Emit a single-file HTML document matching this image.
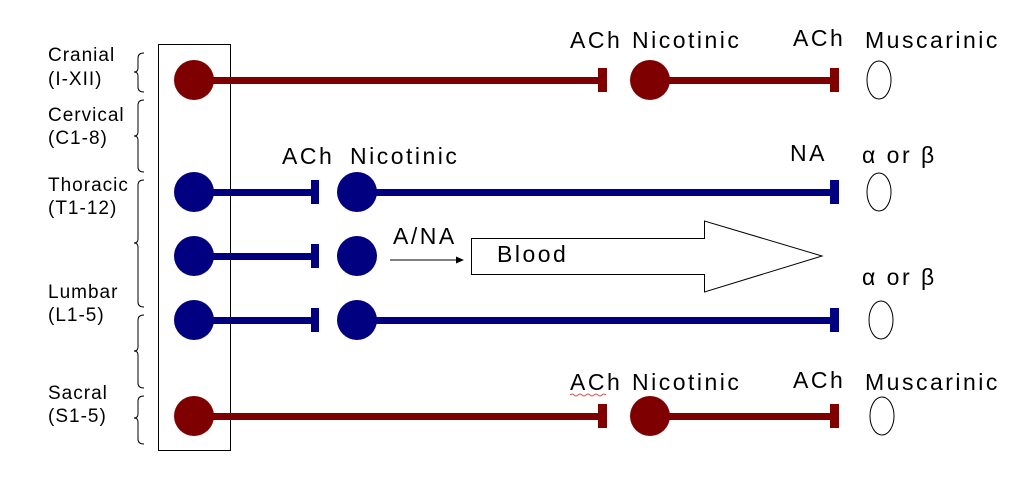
<!DOCTYPE html>
<html><head><meta charset="utf-8"><style>
html,body{margin:0;padding:0;background:#fff;}
svg{display:block;}
text{font-family:"Liberation Sans",sans-serif;fill:#000;}
</style></head><body>
<svg width="1030" height="497" viewBox="0 0 1030 497" xmlns="http://www.w3.org/2000/svg">
<g font-size="19" letter-spacing="1">
<text x="48" y="61">Cranial</text><text x="48" y="85">(I-XII)</text>
<text x="48" y="121">Cervical</text><text x="48" y="144">(C1-8)</text>
<text x="48" y="191">Thoracic</text><text x="48" y="214">(T1-12)</text>
<text x="48" y="298">Lumbar</text><text x="48" y="321">(L1-5)</text>
<text x="48" y="399">Sacral</text><text x="48" y="422">(S1-5)</text>
</g>
<g fill="none" stroke="#000" stroke-width="1">
<path d="M144,53 Q138,53 138,58 L138,68 Q138,72 134,72 Q138,72 138,76 L138,87 Q138,92 144,92"/>
<path d="M144,100 Q138,100 138,105 L138,132 Q138,136 134,136 Q138,136 138,140 L138,167 Q138,172 144,172"/>
<path d="M144,180 Q138,180 138,185 L138,239 Q138,243 134,243 Q138,243 138,247 L138,302 Q138,307 144,307"/>
<path d="M144,315 Q138,315 138,320 L138,347 Q138,351 134,351 Q138,351 138,355 L138,383 Q138,388 144,388"/>
<path d="M144,396 Q138,396 138,401 L138,414 Q138,418 134,418 Q138,418 138,422 L138,439 Q138,444 144,444"/>
<rect x="158.5" y="44.5" width="72" height="406"/>
</g>
<g fill="#7f0000">
<rect x="194" y="77" width="408" height="7"/><rect x="598" y="68" width="9" height="24"/>
<circle cx="194" cy="80" r="20"/><circle cx="650" cy="80" r="20"/>
<rect x="650" y="77" width="184" height="7"/><rect x="830" y="68" width="9" height="24"/>
<rect x="194" y="413" width="408" height="7"/><rect x="598" y="404" width="9" height="24"/>
<circle cx="194" cy="416" r="20"/><circle cx="650" cy="416" r="20"/>
<rect x="650" y="413" width="184" height="7"/><rect x="830" y="404" width="9" height="24"/>
</g>
<g fill="#000080">
<circle cx="194" cy="192" r="20"/><rect x="194" y="189" width="120" height="7"/><rect x="311" y="180" width="8" height="24"/>
<circle cx="357" cy="192" r="20"/><rect x="357" y="189" width="477" height="7"/><rect x="830" y="180" width="9" height="24"/>
<circle cx="194" cy="256" r="20"/><rect x="194" y="253" width="120" height="7"/><rect x="311" y="244" width="8" height="24"/>
<circle cx="357" cy="256" r="20"/>
<circle cx="194" cy="320" r="20"/><rect x="194" y="317" width="120" height="7"/><rect x="311" y="308" width="8" height="24"/>
<circle cx="357" cy="320" r="20"/><rect x="357" y="317" width="477" height="7"/><rect x="830" y="308" width="9" height="24"/>
</g>
<g fill="none" stroke="#000" stroke-width="1">
<ellipse cx="879" cy="80" rx="12" ry="19"/>
<ellipse cx="879" cy="192" rx="12" ry="19"/>
<ellipse cx="881" cy="320" rx="12" ry="19"/>
<ellipse cx="882" cy="416" rx="12" ry="19"/>
<path d="M458,260 L390,260"/>
<path d="M471.5,238.5 L704.5,238.5 L704.5,221 L822,256 L704.5,292 L704.5,274.5 L471.5,274.5 Z"/>
</g>
<path d="M464,260 L456,256.5 L456,263.5 Z" fill="#000"/>
<g font-size="23" letter-spacing="2.5">
<text x="570" y="48">ACh</text><text x="632" y="48">Nicotinic</text>
<text x="793" y="46">ACh</text><text x="865" y="48">Muscarinic</text>
<text x="282" y="164">ACh</text><text x="350" y="164">Nicotinic</text>
<text x="790" y="161">NA</text><text x="862" y="163">α or β</text>
<text x="393" y="244">A/NA</text><text x="497" y="262">Blood</text>
<text x="862" y="285">α or β</text>
<text x="570" y="390">ACh</text><text x="632" y="390">Nicotinic</text>
<text x="793" y="388">ACh</text><text x="865" y="390">Muscarinic</text>
</g>
<path d="M570,395 q2,-2 4,0 t4,0 t4,0 t4,0 t4,0 t4,0 t4,0 t4,0 t4,0" fill="none" stroke="#e05050" stroke-width="1"/>
</svg>
</body></html>
